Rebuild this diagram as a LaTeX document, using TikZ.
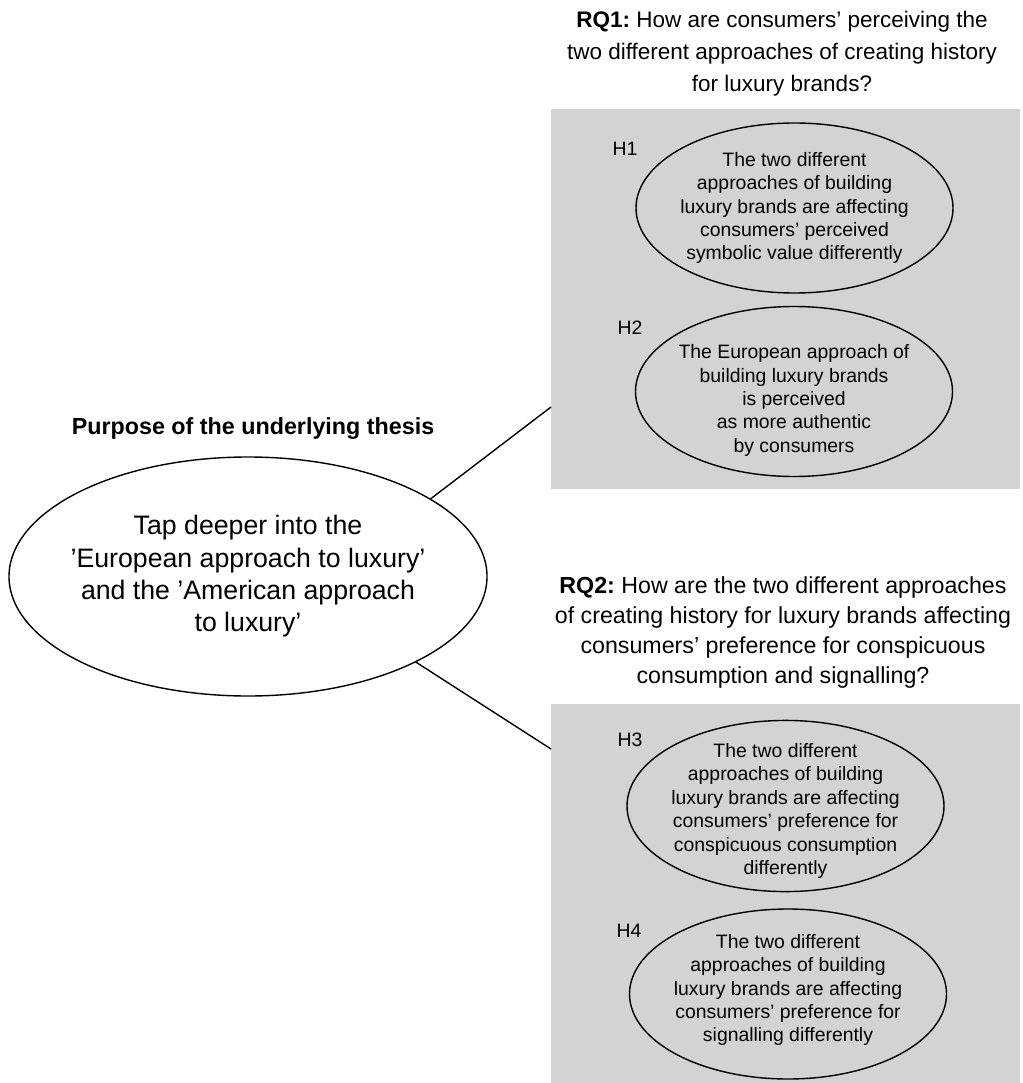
\documentclass[tikz,border=0pt]{standalone}
\usepackage{fontspec}
\setmainfont{Liberation Sans}
\usetikzlibrary{shapes.geometric}
\definecolor{boxgray}{RGB}{211,211,211}
\frenchspacing

\begin{document}
\begin{tikzpicture}[x=1pt,y=-1pt,
  greybox/.style={rectangle,fill=boxgray,inner sep=0pt,outer sep=0pt,minimum width=469pt},
  hypo/.style={ellipse,draw,line width=1.4pt,fill=boxgray,align=center,inner xsep=-10pt,inner ysep=-12pt,outer sep=0pt,minimum width=317pt,minimum height=170pt,font=\fontsize{19.4}{23.4}\selectfont},
  hlabel/.style={anchor=base,inner sep=0pt,font=\fontsize{19.4}{23.4}\selectfont},
  rqtext/.style={anchor=north,align=center,inner sep=0pt},
  link/.style={line width=1.4pt}]
\useasboundingbox (0,0) rectangle (1022,1083);

%Grey boxes
\node[greybox,minimum height=380pt] (box1) at (785.5,299) {};
\node[greybox,minimum height=379pt] (box2) at (785.5,893.5) {};

%Main ellipse
\node[ellipse,draw,line width=1.4pt,fill=white,align=center,inner xsep=-15pt,inner ysep=0pt,outer sep=0pt,minimum width=478pt,minimum height=239pt,font=\fontsize{26.7}{32.3}\selectfont] (purpose) at (248,576.5) {Tap deeper into the\\’European approach to luxury’\\and the ’American approach\\to luxury’};
\node[anchor=base,inner sep=0pt,font=\fontsize{23.3}{28}\selectfont\bfseries] (ptitle) at (253,434) {Purpose of the underlying thesis};

%Research questions
\node[rqtext,font=\fontsize{22.5}{32}\selectfont] (rq1) at (782,10.5) {\textbf{RQ1:} How are consumers’ perceiving the\\two different approaches of creating history\\for luxury brands?};
\node[rqtext,font=\fontsize{23.2}{30}\selectfont] (rq2) at (783,576) {\textbf{RQ2:} How are the two different approaches\\of creating history for luxury brands affecting\\consumers’ preference for conspicuous\\consumption and signalling?};

%Hypotheses (struts push the text a little lower, as in the original)
\node[hypo] (h1) at (794.5,208) {The two different\\approaches of building\\luxury brands are affecting\\consumers’ perceived\\symbolic value differently};
\node[hypo] (h2) at (794,391.5) {\rule{0pt}{32pt}The European approach of\\building luxury brands\\is perceived\\as more authentic\\by consumers};
\node[hypo] (h3) at (785.5,806) {\rule{0pt}{24pt}The two different\\approaches of building\\luxury brands are affecting\\consumers’ preference for\\conspicuous consumption\\differently};
\node[hypo] (h4) at (788,994) {The two different\\approaches of building\\luxury brands are affecting\\consumers’ preference for\\signalling differently\rule[-12pt]{0pt}{0pt}};

\node[hlabel] (l1) at (625,156) {H1};
\node[hlabel] (l2) at (630,334) {H2};
\node[hlabel] (l3) at (630,746) {H3};
\node[hlabel] (l4) at (629,937) {H4};

%Straight Lines
\draw[link] (purpose.23.7) -- ([yshift=82pt]box1.south west);
\draw[link] (purpose.-27.5) -- ([yshift=-45pt]box2.north west);

\end{tikzpicture}
\end{document}
